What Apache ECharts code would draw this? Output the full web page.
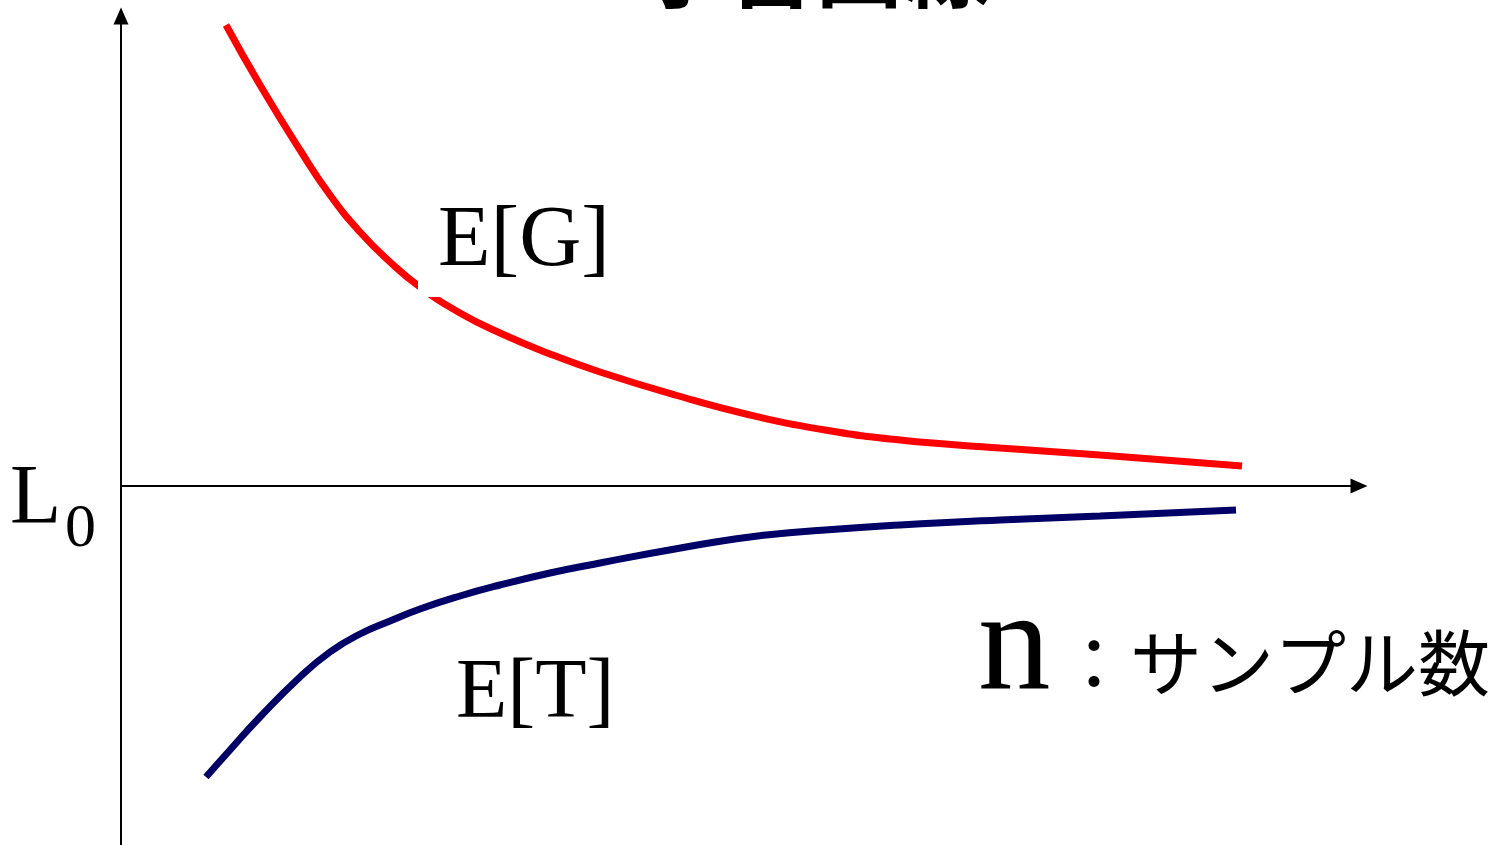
<!DOCTYPE html>
<html>
<head>
<meta charset="utf-8">
<script src="https://cdn.jsdelivr.net/npm/echarts@6/dist/echarts.min.js"></script>
<style>
html,body{margin:0;padding:0;background:#fff;}
#chart{width:1496px;height:845px;}
</style>
</head>
<body>
<div id="chart"></div>
<script>
// n (sample size, arbitrary units) and loss relative to L0
const genN   = [10.5, 13.9, 17.9, 20.9, 23.9, 26.9, 29.9, 33.9, 37.9, 42.9, 47.9, 55.4, 62.9, 70.4, 77.9, 87.9, 97.9, 112.1];
const genErr = [46.1, 40.1, 33.6, 29.1, 25.4, 22.4, 19.9, 17.3, 15.3, 13.2, 11.4, 9.1, 7.1, 5.6, 4.6, 3.8, 3.1, 2.0];
const trnN   = [8.5, 10.9, 13.9, 17.9, 20.9, 23.9, 26.9, 29.9, 33.9, 37.9, 42.9, 47.9, 55.4, 62.9, 70.4, 77.9, 87.9, 97.9, 111.5];
const trnErr = [-29.1, -26.4, -23.1, -19.1, -16.6, -14.8, -13.5, -12.3, -11.0, -9.9, -8.7, -7.7, -6.3, -5.1, -4.4, -3.9, -3.4, -3.0, -2.4];

const titleText = '学習曲線';
const labelG = 'E[G]';
const labelT = 'E[T]';
const labelL = 'L';
const labelL0sub = '0';
const labelN = 'n';
const labelNjp = '：サンプル数';

const chart = echarts.init(document.getElementById('chart'), null, {renderer: 'canvas'});
const serif = '"Liberation Serif", "Times New Roman", serif';
const jp = '"Noto Sans CJK JP", sans-serif';

const axisCommon = {
  type: 'value',
  axisLabel: {show: false},
  axisTick: {show: false},
  splitLine: {show: false}
};

chart.setOption({
  backgroundColor: '#ffffff',
  animation: false,
  grid: {left: 121, right: 137, top: 16, bottom: 0},
  xAxis: Object.assign({}, axisCommon, {
    min: 0, max: 123.8,
    axisLine: {show: true, onZero: true, symbol: ['none', 'triangle'], symbolSize: [15, 17],
      lineStyle: {color: '#000', width: 2}}
  }),
  yAxis: Object.assign({}, axisCommon, {
    min: -35.9, max: 47.0,
    axisLine: {show: true, onZero: false, symbol: ['none', 'triangle'], symbolSize: [15, 17],
      lineStyle: {color: '#000', width: 2}}
  }),
  series: [
    {
      type: 'line', smooth: 0.5, symbol: 'none', z: 3,
      lineStyle: {color: '#ff0000', width: 7},
      data: genN.map((x, i) => [x, genErr[i]])
    },
    {
      type: 'line', smooth: 0.5, symbol: 'none', z: 3,
      lineStyle: {color: '#000066', width: 7},
      data: trnN.map((x, i) => [x, trnErr[i]])
    }
  ],
  graphic: [
    {type: 'rect', z: 50, shape: {x: 418, y: 200, width: 195, height: 97}, style: {fill: '#fff'}},
    {type: 'text', z: 60, style: {text: titleText, x: 815, y: -33, font: 'bold 88px ' + jp, fill: '#000', textAlign: 'center', textVerticalAlign: 'middle'}},
    {type: 'text', z: 60, style: {text: labelG, x: 438, y: 242, font: '86px ' + serif, fill: '#000', textAlign: 'left', textVerticalAlign: 'middle'}},
    {type: 'text', z: 60, style: {text: labelT, x: 456, y: 695, font: '84px ' + serif, fill: '#000', textAlign: 'left', textVerticalAlign: 'middle'}},
    {type: 'text', z: 60, style: {text: labelL, x: 10, y: 501, font: '84px ' + serif, fill: '#000', textAlign: 'left', textVerticalAlign: 'middle'}},
    {type: 'text', z: 60, style: {text: labelL0sub, x: 65, y: 530, font: '62px ' + serif, fill: '#000', textAlign: 'left', textVerticalAlign: 'middle'}},
    {type: 'text', z: 60, style: {text: labelN, x: 978, y: 651, font: '145px ' + serif, fill: '#000', textAlign: 'left', textVerticalAlign: 'middle'}},
    {type: 'text', z: 60, style: {text: labelNjp, x: 1058, y: 663, font: '72px ' + jp, fill: '#000', textAlign: 'left', textVerticalAlign: 'middle'}}
  ]
});
</script>
</body>
</html>
